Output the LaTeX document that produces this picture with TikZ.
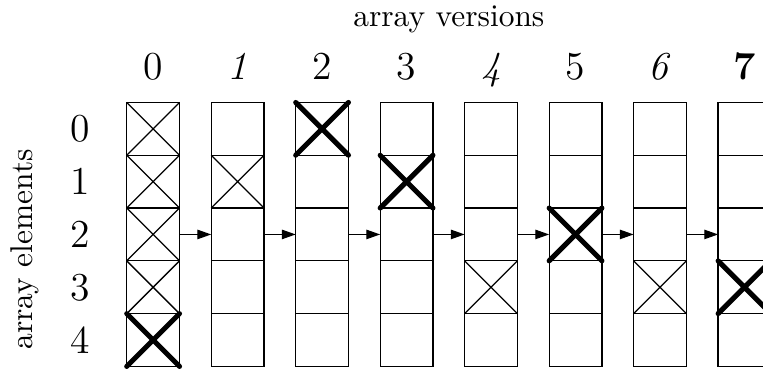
\documentclass[tikz,border=0pt]{standalone}
\usetikzlibrary{arrows.meta}
\tikzset{
  cell/.style={draw, minimum size=0.59cm, inner sep=0pt, outer sep=0pt},
  ver/.style={anchor=base, font=\fontsize{12.6}{15}\selectfont},
  elt/.style={font=\fontsize{12.6}{15}\selectfont},
  hit/.style={line width=1.6pt, line cap=round},
  link/.style={-{Triangle[length=4.4pt,width=3pt]}},
}
\newcommand{\crossout}[2][]{\draw[#1] (#2.north west) -- (#2.south east) (#2.north east) -- (#2.south west);}
\begin{document}
\begin{tikzpicture}[x=0.59cm, y=0.59cm]
      \useasboundingbox (-2.40,-5.03) rectangle (12.05,1.94);
      \foreach \v in {0,...,7}
        \foreach \e in {0,...,4}
          \node[cell] (c\v-\e) at (\v*1.6+0.5,-\e-0.5) {};
      \path
        (6.1,1.43) node[anchor=base] (versions) {array versions}
        (0.5,0.44) node[ver] (v0) {0}
        (2.1,0.44) node[ver] (v1) {\textit{1}}
        (3.7,0.44) node[ver] (v2) {2}
        (5.3,0.44) node[ver] (v3) {3}
        (6.9,0.44) node[ver] (v4) {\textit{4}}
        (8.5,0.44) node[ver] (v5) {5}
        (10.1,0.44) node[ver] (v6) {\textit{6}}
        (11.7,0.44) node[ver] (v7) {\textbf{7}};
      \path
        (-1.775,-2.78) node[rotate=90, anchor=base] (elements) {array elements}
        (-0.89,-0.5) node[elt] (e0) {0}
        (-0.89,-1.5) node[elt] (e1) {1}
        (-0.89,-2.5) node[elt] (e2) {2}
        (-0.89,-3.5) node[elt] (e3) {3}
        (-0.89,-4.5) node[elt] (e4) {4};
      \begin{scope}[link]
        \draw (c0-2.east) to (c1-2.west);
        \draw (c1-2.east) to (c2-2.west);
        \draw (c2-2.east) to (c3-2.west);
        \draw (c3-2.east) to (c4-2.west);
        \draw (c4-2.east) to (c5-2.west);
        \draw (c5-2.east) to (c6-2.west);
        \draw (c6-2.east) to (c7-2.west);
      \end{scope}
      % overwritten elements
      \crossout{c0-0}
      \crossout{c0-1}
      \crossout{c0-2}
      \crossout{c0-3}
      \crossout{c1-1}
      \crossout{c4-3}
      \crossout{c6-3}
      % element written in this version
      \crossout[hit]{c0-4}
      \crossout[hit]{c2-0}
      \crossout[hit]{c3-1}
      \crossout[hit]{c5-2}
      \crossout[hit]{c7-3}
    \end{tikzpicture}
\end{document}
